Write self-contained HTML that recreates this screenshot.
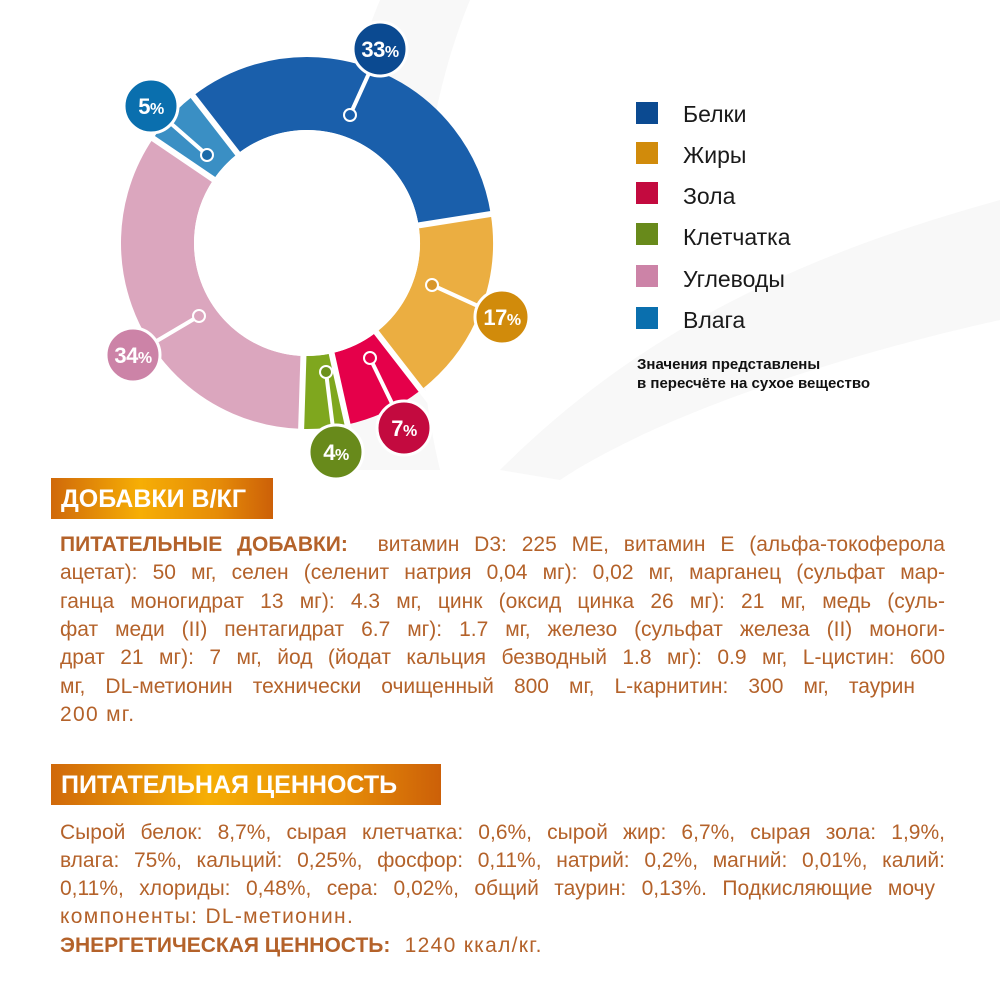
<!DOCTYPE html>
<html><head><meta charset="utf-8"><style>
body{margin:0;width:1000px;height:1000px;background:#fff;position:relative;overflow:hidden;font-family:"Liberation Sans",sans-serif}
.abs{position:absolute}
.lg{position:absolute;left:636px;width:22px;height:22px}
.lt{position:absolute;left:683px;font-size:23px;color:#1a1a1a;line-height:24px}
.hdr{position:absolute;left:51px;height:41px;background:linear-gradient(90deg,#d0690a 0%,#f6ae05 40%,#e68c08 75%,#cc6008 100%);color:#fff;font-weight:bold;font-size:25px;line-height:42px;padding-left:10px;box-sizing:border-box}
.tx{position:absolute;left:60px;width:885px;font-size:21px;color:#b4622a;white-space:nowrap}
.j{text-align:justify;text-align-last:justify}
.s{letter-spacing:1.3px}
b{font-weight:bold;letter-spacing:0}
</style></head><body>
<svg class="abs" style="left:0;top:0" width="1000" height="1000">
<path d="M380 0 C330 120 300 300 330 470 L440 470 C400 300 420 120 470 0Z" fill="#f8f8f8"/>
<path d="M500 470 C650 320 820 250 1000 200 L1000 320 C820 360 650 420 560 480Z" fill="#f8f8f8"/>
<g fill="none" stroke-width="73">
<circle cx="307" cy="243" r="149.5" stroke="#1a5fab" stroke-dasharray="310 939.3" transform="rotate(-127.8 307 243)"/>
<circle cx="307" cy="243" r="149.5" stroke="#ebae41" stroke-dasharray="159.7 939.3" transform="rotate(-9 307 243)"/>
<circle cx="307" cy="243" r="149.5" stroke="#e5004a" stroke-dasharray="65.8 939.3" transform="rotate(52.2 307 243)"/>
<circle cx="307" cy="243" r="149.5" stroke="#7fa71e" stroke-dasharray="37.6 939.3" transform="rotate(77.4 307 243)"/>
<circle cx="307" cy="243" r="149.5" stroke="#dba6be" stroke-dasharray="319.4 939.3" transform="rotate(91.8 307 243)"/>
<circle cx="307" cy="243" r="149.5" stroke="#3a8fc4" stroke-dasharray="47 939.3" transform="rotate(214.2 307 243)"/>
</g>
<g stroke="#fff" stroke-width="6">
<line x1="307" y1="243" x2="184.4" y2="85"/>
<line x1="307" y1="243" x2="504.6" y2="211.8"/>
<line x1="307" y1="243" x2="429.6" y2="401"/>
<line x1="307" y1="243" x2="350.6" y2="438.2"/>
<line x1="307" y1="243" x2="300.7" y2="443"/>
<line x1="307" y1="243" x2="141.6" y2="130.6"/>
</g>
<circle cx="307" cy="243" r="113" fill="#fff"/>
<g stroke="#fff" stroke-width="4">
<line x1="350" y1="115" x2="380" y2="49"/>
<line x1="207" y1="155" x2="151" y2="106"/>
<line x1="432" y1="285" x2="502" y2="317"/>
<line x1="370" y1="358" x2="404" y2="428"/>
<line x1="326" y1="372" x2="336" y2="452"/>
<line x1="199" y1="316" x2="133" y2="355"/>
</g>
<g stroke="#fff" stroke-width="2">
<circle cx="350" cy="115" r="6" fill="#1a5fab"/>
<circle cx="207" cy="155" r="6" fill="#1a6aa8"/>
<circle cx="432" cy="285" r="6" fill="#d8962a"/>
<circle cx="370" cy="358" r="6" fill="#e5004a"/>
<circle cx="326" cy="372" r="6" fill="#6c911c"/>
<circle cx="199" cy="316" r="6" fill="#dba6be"/>
</g>
<g stroke="#fff" stroke-width="3">
<circle cx="380" cy="49" r="27" fill="#0b4a91"/>
<circle cx="151" cy="106" r="27" fill="#0a6fae"/>
<circle cx="502" cy="317" r="27" fill="#d18b0b"/>
<circle cx="404" cy="428" r="27" fill="#c30a3f"/>
<circle cx="336" cy="452" r="27" fill="#688a1b"/>
<circle cx="133" cy="355" r="27" fill="#cc83a7"/>
</g>
<g fill="#fff" font-family="Liberation Sans,sans-serif" font-weight="bold" font-size="22" text-anchor="middle" letter-spacing="-0.5">
<text x="380" y="57">33<tspan font-size="16">%</tspan></text>
<text x="151" y="114">5<tspan font-size="16">%</tspan></text>
<text x="502" y="325">17<tspan font-size="16">%</tspan></text>
<text x="404" y="436">7<tspan font-size="16">%</tspan></text>
<text x="336" y="460">4<tspan font-size="16">%</tspan></text>
<text x="133" y="363">34<tspan font-size="16">%</tspan></text>
</g>
</svg>
<div class="lg" style="top:102px;background:#0b4a91"></div><div class="lt" style="top:102px">Белки</div>
<div class="lg" style="top:142px;background:#d18b0b"></div><div class="lt" style="top:143px">Жиры</div>
<div class="lg" style="top:182px;background:#c30a3f"></div><div class="lt" style="top:184px">Зола</div>
<div class="lg" style="top:223px;background:#688a1b"></div><div class="lt" style="top:225px">Клетчатка</div>
<div class="lg" style="top:265px;background:#cc83a7"></div><div class="lt" style="top:267px">Углеводы</div>
<div class="lg" style="top:307px;background:#0a6fae"></div><div class="lt" style="top:308px">Влага</div>
<div class="abs" style="left:637px;top:355px;font-size:15px;font-weight:bold;color:#111;line-height:19px">Значения представлены<br>в пересчёте на сухое вещество</div>

<div class="hdr" style="top:478px;width:222px">ДОБАВКИ В/КГ</div>
<div class="tx j" style="top:533px"><b>ПИТАТЕЛЬНЫЕ ДОБАВКИ:</b>&nbsp; витамин D3: 225 МЕ, витамин Е (альфа-токоферола</div>
<div class="tx j" style="top:561px">ацетат): 50 мг, селен (селенит натрия 0,04 мг): 0,02 мг, марганец (сульфат мар-</div>
<div class="tx j" style="top:590px">ганца моногидрат 13 мг): 4.3 мг, цинк (оксид цинка 26 мг): 21 мг, медь (суль-</div>
<div class="tx j" style="top:618px">фат меди (II) пентагидрат 6.7 мг): 1.7 мг, железо (сульфат железа (II) моноги-</div>
<div class="tx j" style="top:646px">драт 21 мг): 7 мг, йод (йодат кальция безводный 1.8 мг): 0.9 мг, L-цистин: 600</div>
<div class="tx j" style="top:675px;width:855px">мг, DL-метионин технически очищенный 800 мг, L-карнитин: 300 мг, таурин</div>
<div class="tx s" style="top:703px">200 мг.</div>

<div class="hdr" style="top:764px;width:390px">ПИТАТЕЛЬНАЯ ЦЕННОСТЬ</div>
<div class="tx j" style="top:821px">Сырой белок: 8,7%, сырая клетчатка: 0,6%, сырой жир: 6,7%, сырая зола: 1,9%,</div>
<div class="tx j" style="top:849px">влага: 75%, кальций: 0,25%, фосфор: 0,11%, натрий: 0,2%, магний: 0,01%, калий:</div>
<div class="tx j" style="top:877px;width:875px">0,11%, хлориды: 0,48%, сера: 0,02%, общий таурин: 0,13%. Подкисляющие мочу</div>
<div class="tx s" style="top:905px">компоненты: DL-метионин.</div>
<div class="tx s" style="top:934px"><b>ЭНЕРГЕТИЧЕСКАЯ ЦЕННОСТЬ:</b>&nbsp; 1240 ккал/кг.</div>
</body></html>
